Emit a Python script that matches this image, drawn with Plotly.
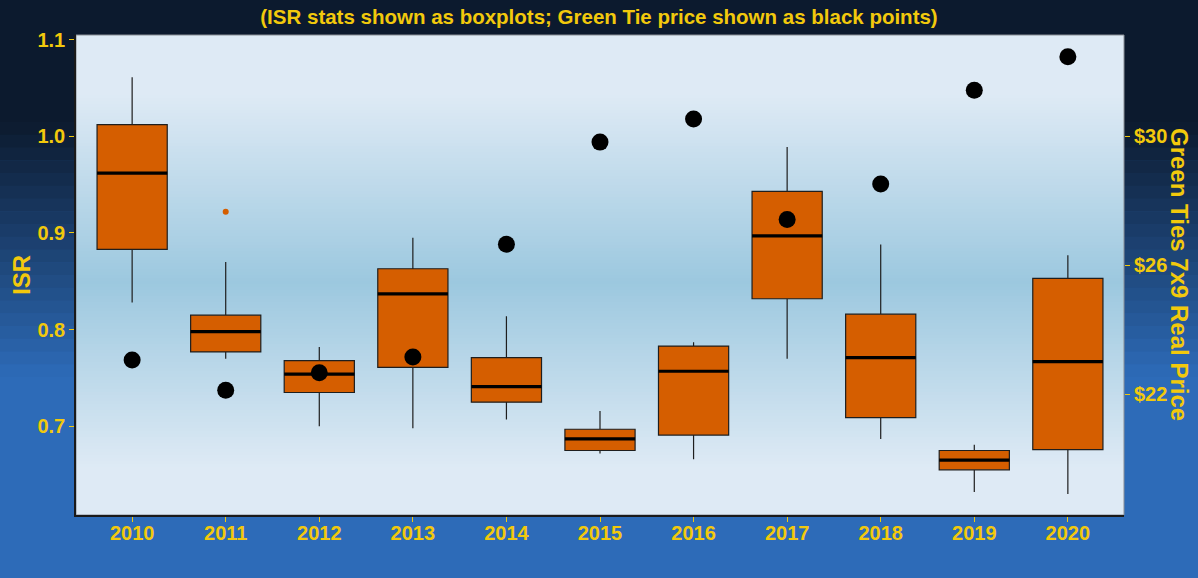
import plotly.graph_objects as go

# ---------------- data ----------------
years = [2010, 2011, 2012, 2013, 2014, 2015, 2016, 2017, 2018, 2019, 2020]
isr_lower = [0.828, 0.770, 0.700, 0.698, 0.707, 0.672, 0.666, 0.770, 0.687, 0.632, 0.630]
isr_q1 = [0.883, 0.777, 0.735, 0.761, 0.725, 0.675, 0.691, 0.832, 0.709, 0.655, 0.676]
isr_median = [0.962, 0.798, 0.754, 0.837, 0.741, 0.687, 0.757, 0.897, 0.771, 0.665, 0.767]
isr_q3 = [1.012, 0.815, 0.768, 0.863, 0.771, 0.697, 0.783, 0.943, 0.816, 0.675, 0.853]
isr_upper = [1.061, 0.870, 0.782, 0.895, 0.814, 0.716, 0.787, 0.989, 0.888, 0.681, 0.877]
outlier_years = [2011]
outlier_isr = [0.922]
price = [23.06, 22.12, 22.66, 23.15, 26.65, 29.82, 30.54, 27.42, 28.52, 31.43, 32.47]
price_ticks = [22, 26, 30]
isr_ticks = [0.7, 0.8, 0.9, 1.0, 1.1]

title_text = "(ISR stats shown as boxplots; Green Tie price shown as black points)"
gold = "#F2C90C"
font_family = "Liberation Sans, Arial, sans-serif"

W, H = 1198, 578
L, R, T, B = 75.7, 74, 35, 63
plot_h = H - T - B
plot_w = W - L - R

ymin, ymax = 0.6083, 1.1048
price_scale = 30.0

fig = go.Figure()

# boxes
fig.add_trace(go.Box(
    x=years, q1=isr_q1, median=isr_median, q3=isr_q3,
    lowerfence=isr_lower, upperfence=isr_upper,
    width=0.75, whiskerwidth=0, boxpoints=False,
    fillcolor="#D55E00", line=dict(color="#1e1e1e", width=1.2),
    showlegend=False, hoverinfo="skip",
))

# thick median lines
mx, my = [], []
for yv, m in zip(years, isr_median):
    mx += [yv - 0.375, yv + 0.375, None]
    my += [m, m, None]
fig.add_trace(go.Scatter(x=mx, y=my, mode="lines", line=dict(color="black", width=3.2),
                         showlegend=False, hoverinfo="skip"))

# outlier
fig.add_trace(go.Scatter(x=outlier_years, y=outlier_isr, mode="markers",
                         marker=dict(color="#D55E00", size=6), showlegend=False))

# price points on secondary axis
fig.add_trace(go.Scatter(x=years, y=price, mode="markers", yaxis="y2",
                         marker=dict(color="black", size=17), showlegend=False))

# ---------------- backgrounds ----------------
def lerp(c1, c2, t):
    return tuple(round(a + (b - a) * t) for a, b in zip(c1, c2))

def hexc(c):
    return "#%02x%02x%02x" % c

shapes = []
dark = (12, 26, 46)
blue = (45, 107, 184)

def py_to_paper(py):
    return (H - B - py) / plot_h

xp0 = -L / plot_w - 0.01
xp1 = (W - L) / plot_w + 0.01
# paper gradient (banded)
shapes.append(dict(type="rect", xref="paper", yref="paper", x0=xp0, x1=xp1,
                   y0=py_to_paper(122), y1=py_to_paper(-2), fillcolor=hexc(dark),
                   line=dict(width=0), layer="below"))
nb = 20
g0, g1 = 122, 377
for i in range(nb):
    a = g0 + (g1 - g0) * i / nb
    b = g0 + (g1 - g0) * (i + 1) / nb
    shapes.append(dict(type="rect", xref="paper", yref="paper", x0=xp0, x1=xp1,
                       y0=py_to_paper(b + 0.5), y1=py_to_paper(a),
                       fillcolor=hexc(lerp(dark, blue, (i + 0.5) / nb)),
                       line=dict(width=0), layer="below"))
shapes.append(dict(type="rect", xref="paper", yref="paper", x0=xp0, x1=xp1,
                   y0=py_to_paper(H + 2), y1=py_to_paper(377), fillcolor=hexc(blue),
                   line=dict(width=0), layer="below"))

# plot area gradient
light = (222, 234, 245)
mid = (156, 200, 223)
def plot_color(py):
    if py < 95:
        return light
    if py < 282:
        return lerp(light, mid, (py - 95) / (282 - 95))
    if py < 468:
        return lerp(mid, light, (py - 282) / (468 - 282))
    return light

step = 3
py = T
while py < H - B:
    pe = min(py + step, H - B)
    shapes.append(dict(type="rect", xref="paper", yref="paper", x0=0, x1=1,
                       y0=py_to_paper(pe + 0.3), y1=py_to_paper(py),
                       fillcolor=hexc(plot_color((py + pe) / 2)),
                       line=dict(width=0), layer="below"))
    py = pe

# panel border (grey on top/right)
shapes.append(dict(type="rect", xref="paper", yref="paper", x0=0, x1=1, y0=0, y1=1,
                   line=dict(color="#8a8f96", width=1), fillcolor="rgba(0,0,0,0)", layer="below"))

tickfont = dict(family=font_family, size=20, color=gold, weight="bold")

fig.update_layout(
    width=W, height=H,
    margin=dict(l=L, r=R, t=T, b=B, pad=0),
    paper_bgcolor=hexc(blue),
    plot_bgcolor="rgba(0,0,0,0)",
    shapes=shapes,
    title=dict(text=title_text, x=0.5, xanchor="center", xref="container",
               y=1 - 17 / H, yanchor="middle", yref="container",
               font=dict(family=font_family, size=20.5, color=gold, weight="bold")),
    xaxis=dict(range=[2009.4, 2020.6], tickvals=years, ticktext=[str(y) for y in years],
               showgrid=False, zeroline=False, showline=True, linecolor="#1a1a1a", linewidth=1.5,
               ticks="outside", ticklen=5, tickwidth=1.2, tickcolor=gold, tickfont=tickfont,
               ticklabelstandoff=-6),
    yaxis=dict(range=[ymin, ymax], tickvals=isr_ticks, ticktext=["0.7", "0.8", "0.9", "1.0", "1.1"],
               showgrid=False, zeroline=False, showline=True, linecolor="#1a1a1a", linewidth=1.5,
               ticks="outside", ticklen=5, tickwidth=1.2, tickcolor=gold, tickfont=tickfont),
    yaxis2=dict(range=[ymin * price_scale, ymax * price_scale], overlaying="y", side="right",
                tickvals=price_ticks, ticktext=["$%d" % p for p in price_ticks],
                showgrid=False, zeroline=False, showline=False,
                ticks="outside", ticklen=5, tickwidth=1.2, tickcolor=gold, tickfont=tickfont),
    annotations=[
        dict(text="ISR", xref="paper", yref="paper", x=(20.5 - L) / plot_w, y=0.5,
             showarrow=False, textangle=-90, xanchor="center", yanchor="middle",
             font=dict(family=font_family, size=24, color=gold, weight="bold")),
        dict(text="Green Ties 7x9 Real Price", xref="paper", yref="paper",
             x=(1180 - L) / plot_w, y=0.5, showarrow=False, textangle=90,
             xanchor="center", yanchor="middle",
             font=dict(family=font_family, size=24, color=gold, weight="bold")),
    ],
)

fig.write_html("out.html",
               config={"displayModeBar": False},
               post_script="document.body.style.margin='0';document.body.style.padding='0';"
                           "document.documentElement.style.background='#2d6bb8';")
